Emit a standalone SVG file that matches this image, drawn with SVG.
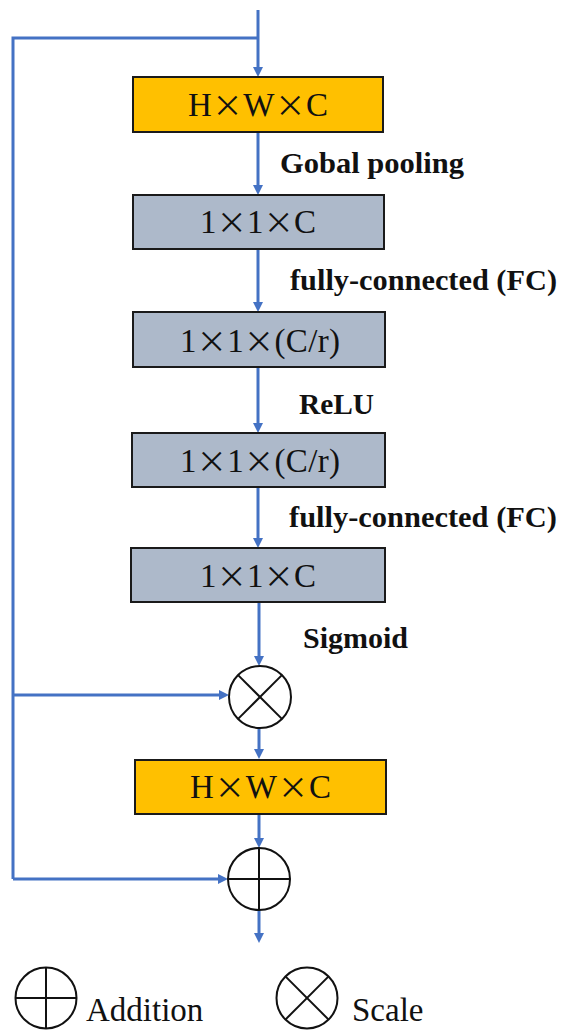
<svg xmlns="http://www.w3.org/2000/svg" width="561" height="1030" viewBox="0 0 561 1030">
<style>
.bg{fill:#ffffff}
.box{stroke:#1a1a1a;stroke-width:2}
.orange{fill:#FFC000}
.gray{fill:#ADB9CA}
text{font-family:'Liberation Serif','Times New Roman',serif}
.bt{font-size:33px;fill:#111}
.x{font-family:'Noto Sans CJK SC','Liberation Serif',sans-serif;font-size:30px}
.lbl{font-size:30px;font-weight:bold;fill:#111}
.leg{font-size:33px;fill:#111}
.conn{stroke:#4472C4;stroke-width:3;fill:none}
.op{fill:#ffffff;stroke:#111;stroke-width:2}
.opl{stroke:#111;stroke-width:2}
</style>
<defs>
<marker id="ah" viewBox="0 0 10 10" refX="2" refY="5" markerWidth="10" markerHeight="10" markerUnits="userSpaceOnUse" orient="auto">
<path d="M0,0 L10,5 L0,10 z" fill="#4472C4"/>
</marker>
</defs>
<rect class="bg" x="0" y="0" width="561" height="1030"/>

<g id="connectors">
<line class="conn" x1="258" y1="10" x2="258" y2="69" marker-end="url(#ah)"/>
<polyline class="conn" points="258,38 13,38 13,879"/>
<line class="conn" x1="258" y1="132" x2="258" y2="187" marker-end="url(#ah)"/>
<line class="conn" x1="258" y1="249" x2="258" y2="304" marker-end="url(#ah)"/>
<line class="conn" x1="258" y1="367" x2="258" y2="425" marker-end="url(#ah)"/>
<line class="conn" x1="258" y1="487" x2="258" y2="540" marker-end="url(#ah)"/>
<line class="conn" x1="259" y1="602" x2="259" y2="658" marker-end="url(#ah)"/>
<line class="conn" x1="13" y1="695" x2="221" y2="695" marker-end="url(#ah)"/>
<line class="conn" x1="259" y1="728" x2="259" y2="751" marker-end="url(#ah)"/>
<line class="conn" x1="259" y1="814" x2="259" y2="840" marker-end="url(#ah)"/>
<line class="conn" x1="13" y1="879" x2="220" y2="879" marker-end="url(#ah)"/>
<line class="conn" x1="259" y1="910" x2="259" y2="935" marker-end="url(#ah)"/>
</g>

<g id="node-hwc-in">
<rect class="box orange" x="133" y="77" width="250" height="55"/>
<text class="bt" x="188" y="116" textLength="140" lengthAdjust="spacing">H<tspan class="x">×</tspan>W<tspan class="x">×</tspan>C</text>
</g>
<g id="node-11c-a">
<rect class="box gray" x="133" y="195" width="251" height="54"/>
<text class="bt" x="200" y="233" textLength="116" lengthAdjust="spacing">1<tspan class="x">×</tspan>1<tspan class="x">×</tspan>C</text>
</g>
<g id="node-11cr-a">
<rect class="box gray" x="133" y="312" width="252" height="55"/>
<text class="bt" x="180" y="352" textLength="160" lengthAdjust="spacing">1<tspan class="x">×</tspan>1<tspan class="x">×</tspan>(C/r)</text>
</g>
<g id="node-11cr-b">
<rect class="box gray" x="132" y="433" width="253" height="54"/>
<text class="bt" x="180" y="472" textLength="160" lengthAdjust="spacing">1<tspan class="x">×</tspan>1<tspan class="x">×</tspan>(C/r)</text>
</g>
<g id="node-11c-b">
<rect class="box gray" x="131" y="548" width="254" height="54"/>
<text class="bt" x="200" y="587" textLength="116" lengthAdjust="spacing">1<tspan class="x">×</tspan>1<tspan class="x">×</tspan>C</text>
</g>
<g id="node-scale">
<circle class="op" cx="260" cy="697" r="31"/>
<line class="opl" x1="238.1" y1="675.1" x2="281.9" y2="718.9"/>
<line class="opl" x1="281.9" y1="675.1" x2="238.1" y2="718.9"/>
</g>
<g id="node-hwc-out">
<rect class="box orange" x="135" y="760" width="251" height="54"/>
<text class="bt" x="190" y="798" textLength="141" lengthAdjust="spacing">H<tspan class="x">×</tspan>W<tspan class="x">×</tspan>C</text>
</g>
<g id="node-add">
<circle class="op" cx="259" cy="879" r="31"/>
<line class="opl" x1="259" y1="848" x2="259" y2="910"/>
<line class="opl" x1="228" y1="879" x2="290" y2="879"/>
</g>

<g id="labels">
<text class="lbl" x="280" y="173" textLength="184" lengthAdjust="spacingAndGlyphs">Gobal pooling</text>
<text class="lbl" x="290" y="290" textLength="267" lengthAdjust="spacingAndGlyphs">fully-connected (FC)</text>
<text class="lbl" x="299" y="414" textLength="75" lengthAdjust="spacingAndGlyphs">ReLU</text>
<text class="lbl" x="289" y="527" textLength="268" lengthAdjust="spacingAndGlyphs">fully-connected (FC)</text>
<text class="lbl" x="303" y="648" textLength="105" lengthAdjust="spacingAndGlyphs">Sigmoid</text>
</g>

<g id="legend-addition">
<circle class="op" cx="46" cy="998" r="30.5"/>
<line class="opl" x1="46" y1="967.5" x2="46" y2="1028.5"/>
<line class="opl" x1="15.5" y1="998" x2="76.5" y2="998"/>
<text class="leg" x="86" y="1021">Addition</text>
</g>
<g id="legend-scale">
<circle class="op" cx="307" cy="998" r="30.5"/>
<line class="opl" x1="285.4" y1="976.4" x2="328.6" y2="1019.6"/>
<line class="opl" x1="328.6" y1="976.4" x2="285.4" y2="1019.6"/>
<text class="leg" x="352" y="1021">Scale</text>
</g>
</svg>
